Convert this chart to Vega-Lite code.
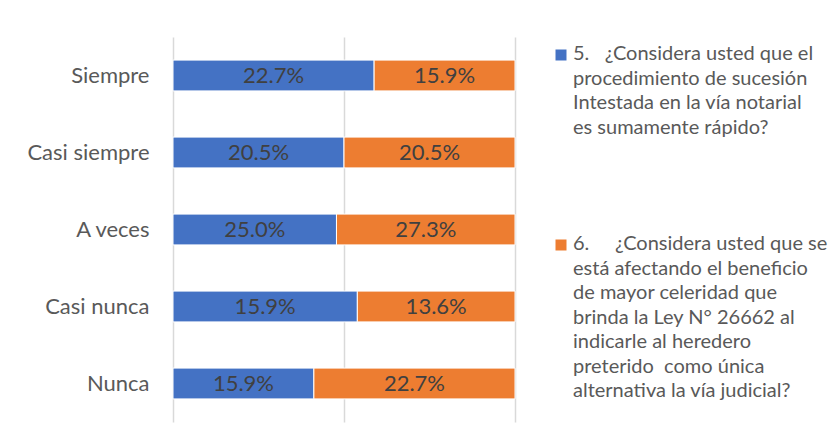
{
  "$schema": "https://vega.github.io/schema/vega-lite/v6.json",
  "width": 342,
  "height": 385,
  "autosize": {"type": "none"},
  "padding": {"left": 173, "top": 37, "right": 323, "bottom": 25},
  "background": "white",
  "config": {"view": {"stroke": null}, "font": "Lato", "style": {"guide-label": {"lineHeight": 24.5}}},
  "data": {
    "values": [
      {"cat": "Siempre", "serie": "5.\u00a0\u00a0\u00a0¿Considera usted que el|procedimiento de sucesión|Intestada en la vía notarial|es sumamente rápido?", "idx": 1, "v": 0.227},
      {"cat": "Siempre", "serie": "6.\u00a0\u00a0\u00a0\u00a0\u00a0¿Considera usted que se|está afectando el beneficio|de mayor celeridad que|brinda la Ley N° 26662 al|indicarle al heredero|preterido\u00a0\u00a0como única|alternativa la vía judicial?", "idx": 2, "v": 0.159},
      {"cat": "Casi siempre", "serie": "5.\u00a0\u00a0\u00a0¿Considera usted que el|procedimiento de sucesión|Intestada en la vía notarial|es sumamente rápido?", "idx": 1, "v": 0.205},
      {"cat": "Casi siempre", "serie": "6.\u00a0\u00a0\u00a0\u00a0\u00a0¿Considera usted que se|está afectando el beneficio|de mayor celeridad que|brinda la Ley N° 26662 al|indicarle al heredero|preterido\u00a0\u00a0como única|alternativa la vía judicial?", "idx": 2, "v": 0.205},
      {"cat": "A veces", "serie": "5.\u00a0\u00a0\u00a0¿Considera usted que el|procedimiento de sucesión|Intestada en la vía notarial|es sumamente rápido?", "idx": 1, "v": 0.25},
      {"cat": "A veces", "serie": "6.\u00a0\u00a0\u00a0\u00a0\u00a0¿Considera usted que se|está afectando el beneficio|de mayor celeridad que|brinda la Ley N° 26662 al|indicarle al heredero|preterido\u00a0\u00a0como única|alternativa la vía judicial?", "idx": 2, "v": 0.273},
      {"cat": "Casi nunca", "serie": "5.\u00a0\u00a0\u00a0¿Considera usted que el|procedimiento de sucesión|Intestada en la vía notarial|es sumamente rápido?", "idx": 1, "v": 0.159},
      {"cat": "Casi nunca", "serie": "6.\u00a0\u00a0\u00a0\u00a0\u00a0¿Considera usted que se|está afectando el beneficio|de mayor celeridad que|brinda la Ley N° 26662 al|indicarle al heredero|preterido\u00a0\u00a0como única|alternativa la vía judicial?", "idx": 2, "v": 0.136},
      {"cat": "Nunca", "serie": "5.\u00a0\u00a0\u00a0¿Considera usted que el|procedimiento de sucesión|Intestada en la vía notarial|es sumamente rápido?", "idx": 1, "v": 0.159},
      {"cat": "Nunca", "serie": "6.\u00a0\u00a0\u00a0\u00a0\u00a0¿Considera usted que se|está afectando el beneficio|de mayor celeridad que|brinda la Ley N° 26662 al|indicarle al heredero|preterido\u00a0\u00a0como única|alternativa la vía judicial?", "idx": 2, "v": 0.227}
    ]
  },
  "encoding": {
    "y": {
      "field": "cat", "type": "nominal",
      "sort": ["Siempre", "Casi siempre", "A veces", "Casi nunca", "Nunca"],
      "scale": {"paddingInner": 0.6, "paddingOuter": 0.3},
      "axis": {"title": null, "domain": false, "ticks": false, "labelFont": "Lato", "labelFontSize": 22, "labelColor": "#595959", "labelPadding": 24}
    },
    "order": {"field": "idx", "type": "quantitative"}
  },
  "layer": [
    {
      "mark": {"type": "bar", "stroke": "white", "strokeWidth": 1},
      "encoding": {
        "x": {"field": "v", "type": "quantitative", "stack": "normalize",
          "axis": {"title": null, "labels": false, "ticks": false, "domain": false, "values": [0, 0.5, 1], "gridColor": "#d9d9d9", "gridWidth": 1.5}},
        "color": {
          "field": "serie", "type": "nominal",
          "scale": {"range": ["#4472C4", "#ED7D31"]},
          "legend": {
            "title": null, "orient": "none", "legendX": 374, "legendY": 9, "padding": 4,
            "symbolType": "M-1,-1.91L1,-1.91L1,0.09L-1,0.09Z", "symbolSize": 121, "symbolStrokeWidth": 0,
            "labelFont": "Lato", "labelFontSize": 20, "labelColor": "#595959", "labelLimit": 400, "labelOffset": 2,
            "labelExpr": "split(datum.label, '|')", "labelBaseline": "alphabetic", "rowPadding": 96
          }
        }
      }
    },
    {
      "mark": {"type": "text", "font": "Lato", "fontSize": 22, "color": "#404040"},
      "encoding": {
        "x": {"field": "v", "type": "quantitative", "stack": "normalize", "bandPosition": 0.5},
        "detail": {"field": "serie"},
        "text": {"field": "v", "type": "quantitative", "format": ".1%"}
      }
    }
  ]
}
